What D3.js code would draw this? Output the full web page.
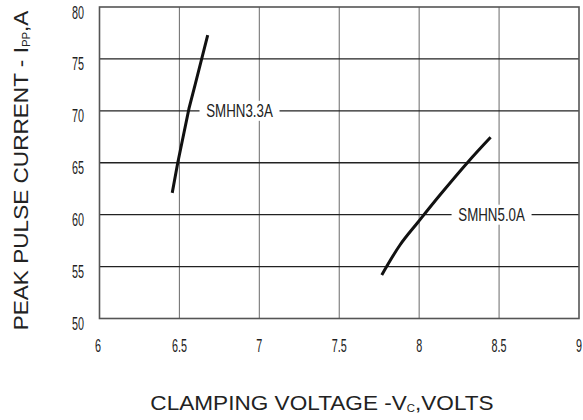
<!DOCTYPE html>
<html><head><meta charset="utf-8">
<script src="https://cdn.jsdelivr.net/npm/d3@7"></script>
<style>
html,body{margin:0;padding:0;background:#fff;}
svg{display:block;}
text{font-family:"Liberation Sans",Arial,sans-serif;fill:#222;}
</style></head>
<body>
<svg id="c" width="583" height="420"></svg>
<script>
// ---- data ----
const xTicks = [6, 6.5, 7, 7.5, 8, 8.5, 9];
const yTicks = [50, 55, 60, 65, 70, 75, 80];
const xTickLabels = ["6", "6.5", "7", "7.5", "8", "8.5", "9"];
const yTickLabels = ["50", "55", "60", "65", "70", "75", "80"];
const seriesNames = ["SMHN3.3A", "SMHN5.0A"];
const s33V = [6.455, 6.489, 6.560, 6.598, 6.677];
const s33I = [62.1, 64.95, 70.24, 72.5, 77.3];
const s50V = [7.766, 7.880, 7.995, 8.130, 8.307, 8.447];
const s50I = [54.19, 57.08, 59.32, 61.89, 65.1, 67.45];
const labelV = [6.876, 8.453];
const labelI = [70, 60];

// ---- layout ----
const svg = d3.select("#c");
const x = d3.scaleLinear().domain([6, 9]).range([99.5, 579]);
const y = d3.scaleLinear().domain([50, 80]).range([318.5, 7]);

const g = svg.append("g");

// vertical grid
g.selectAll("line.vg").data(xTicks.slice(1, -1)).enter().append("line")
  .attr("x1", d => x(d)).attr("x2", d => x(d))
  .attr("y1", y(80)).attr("y2", y(50))
  .attr("stroke", "#777").attr("stroke-width", 1.1);
// horizontal grid
g.selectAll("line.hg").data(yTicks.slice(1, -1)).enter().append("line")
  .attr("x1", x(6)).attr("x2", x(9))
  .attr("y1", d => y(d)).attr("y2", d => y(d))
  .attr("stroke", "#222").attr("stroke-width", 1.4);

// label backgrounds (white, interrupt grid)
const labelData = seriesNames.map((n, i) => ({ n, v: labelV[i], c: labelI[i] }));
g.selectAll("rect.lb").data(labelData).enter().append("rect")
  .attr("x", d => x(d.v) - 40).attr("width", 80)
  .attr("y", d => y(d.c) - 10).attr("height", 20)
  .attr("fill", "#fff");

// border
g.append("rect")
  .attr("x", x(6)).attr("y", y(80))
  .attr("width", x(9) - x(6)).attr("height", y(50) - y(80))
  .attr("fill", "none").attr("stroke", "#555").attr("stroke-width", 1.6);

// curves
const line = d3.line().x(d => x(d[0])).y(d => y(d[1]));
const c33 = s33V.map((v, i) => [v, s33I[i]]);
const c50 = s50V.map((v, i) => [v, s50I[i]]);
g.append("path").attr("d", line.curve(d3.curveLinear)(c33))
  .attr("fill", "none").attr("stroke", "#111").attr("stroke-width", 3);
g.append("path").attr("d", line.curve(d3.curveCatmullRom)(c50))
  .attr("fill", "none").attr("stroke", "#111").attr("stroke-width", 3);

// series labels
g.selectAll("text.sl").data(labelData).enter().append("text")
  .attr("transform", d => `translate(${x(d.v)},${y(d.c) + 6.5}) scale(0.72,1)`)
  .attr("text-anchor", "middle")
  .style("font-size", "18.5px")
  .text(d => d.n);

// y tick labels
g.selectAll("text.yt").data(yTicks).enter().append("text")
  .attr("transform", d => `translate(84,${y(d) + 11.5}) scale(0.6,1)`)
  .attr("text-anchor", "end")
  .style("font-size", "18px")
  .text((d, i) => yTickLabels[i]);

// x tick labels
g.selectAll("text.xt").data(xTicks).enter().append("text")
  .attr("transform", (d, i) => `translate(${x(d) - (i === 0 ? 1.5 : 0)},352) scale(0.6,1)`)
  .attr("text-anchor", "middle")
  .style("font-size", "18px")
  .text((d, i) => xTickLabels[i]);

// x axis title
const xt = svg.append("text")
  .attr("transform", "translate(322,410) scale(1.13,1)")
  .attr("text-anchor", "middle")
  .style("font-size", "20px");
xt.append("tspan").text("CLAMPING VOLTAGE -V");
xt.append("tspan").attr("dy", 2).style("font-size", "10px").text("C");
xt.append("tspan").attr("dy", -2).text(",VOLTS");

// y axis title
const yt = svg.append("text")
  .attr("transform", "translate(27.5,170.5) rotate(-90) scale(1.13,1)")
  .attr("text-anchor", "middle")
  .style("font-size", "20px");
yt.append("tspan").text("PEAK PULSE CURRENT - I");
yt.append("tspan").attr("dy", 2).style("font-size", "10px").text("PP");
yt.append("tspan").attr("dy", -2).text(",A");
</script>
</body></html>
